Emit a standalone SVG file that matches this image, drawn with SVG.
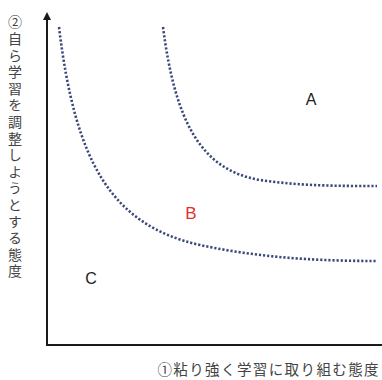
<svg xmlns="http://www.w3.org/2000/svg" width="382" height="380" viewBox="0 0 382 380">
<style>
.axis{stroke:#1a1a1a;stroke-width:2;fill:none}
.curve{stroke:#3b4a7a;stroke-width:2.6;fill:none;stroke-dasharray:2.2 1.9}
.lbl{font-family:"Liberation Sans","Noto Sans",sans-serif;font-size:16px;fill:#222;text-anchor:middle}
.jp{font-family:"Noto Sans CJK JP",sans-serif;fill:#444}
</style>
<defs>
<marker id="arr" viewBox="0 0 10 10" refX="5" refY="5" markerWidth="4" markerHeight="4" orient="auto-start-reverse">
<path d="M0,0L10,5L0,10Z" fill="#1a1a1a"/>
</marker>
</defs>
<g id="axes">
<path class="axis" d="M47,345V16" marker-end="url(#arr)"/>
<path class="axis" d="M46,345H382"/>
</g>
<g id="connectors">
<path class="curve" d="M59,27C75,160 110,225 200,245C260,258 320,261 377,261"/>
<path class="curve" d="M163,27C175,120 200,170 260,180C300,186 340,186 377,186"/>
</g>
<g id="regionA"><text class="lbl" x="311" y="105">A</text></g>
<g id="regionB"><text class="lbl" x="191" y="219" style="fill:#d9342b;font-size:17px">B</text></g>
<g id="regionC"><text class="lbl" x="91" y="284">C</text></g>
<g id="ylabel"><text class="jp" x="15" y="15" style="writing-mode:vertical-rl;font-size:14px;letter-spacing:2.6px">②自ら学習を調整しようとする態度</text></g>
<g id="xlabel"><text class="jp" x="380" y="375" style="font-size:14.5px;letter-spacing:1.4px;text-anchor:end">①粘り強く学習に取り組む態度</text></g>
</svg>
